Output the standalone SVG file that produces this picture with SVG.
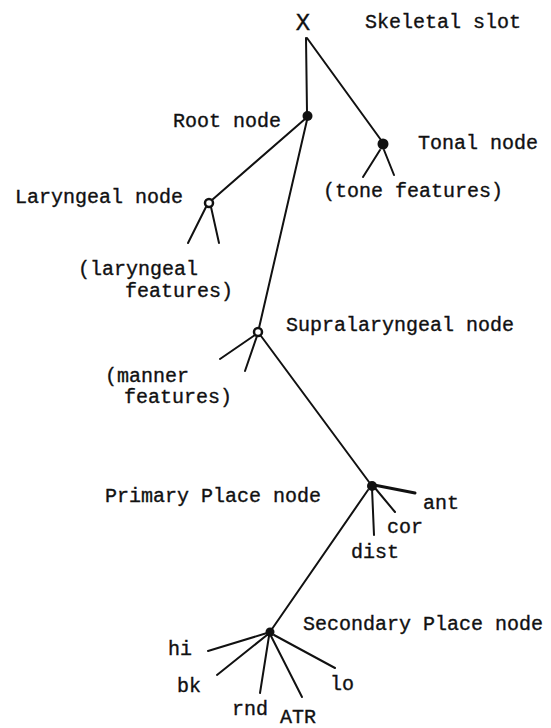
<svg xmlns="http://www.w3.org/2000/svg" width="551" height="728" viewBox="0 0 551 728">
  <style>
    text { font-family: "Liberation Mono", "DejaVu Sans Mono", monospace; font-size: 20px; fill: #111; stroke: #111; stroke-width: 0.35; }
    .edge { stroke: #111; stroke-width: 2; stroke-linecap: round; fill: none; }
    .thick { stroke-width: 3; }
    .dot { fill: #111; }
    .ring { fill: #fff; stroke: #111; stroke-width: 2.5; }
  </style>
  <rect width="551" height="728" fill="#fff"/>

  <g id="connectors">
    <line class="edge" x1="306" y1="38" x2="307" y2="112"/>
    <line class="edge" x1="307" y1="38" x2="381" y2="140"/>
    <line class="edge" x1="305" y1="119" x2="212" y2="200"/>
    <line class="edge" x1="307" y1="120" x2="259" y2="328"/>
    <line class="edge" x1="380" y1="150" x2="363" y2="177"/>
    <line class="edge" x1="384" y1="150" x2="394" y2="175"/>
    <line class="edge" x1="206" y1="207" x2="188" y2="243"/>
    <line class="edge" x1="211" y1="207" x2="219" y2="243"/>
    <line class="edge" x1="255" y1="335" x2="220" y2="359"/>
    <line class="edge" x1="257" y1="336" x2="245" y2="371"/>
    <line class="edge" x1="261" y1="336" x2="369" y2="482"/>
    <line class="edge thick" x1="374" y1="485" x2="415" y2="493"/>
    <line class="edge" x1="375" y1="488" x2="395" y2="512"/>
    <line class="edge" x1="372" y1="488" x2="374" y2="535"/>
    <line class="edge" x1="368" y1="490" x2="272" y2="629"/>
    <line class="edge" x1="267" y1="633" x2="208" y2="651"/>
    <line class="edge" x1="267" y1="635" x2="217" y2="675"/>
    <line class="edge" x1="269" y1="636" x2="260" y2="693"/>
    <line class="edge" x1="271" y1="636" x2="302" y2="697"/>
    <line class="edge" x1="274" y1="635" x2="335" y2="668"/>
  </g>

  <g id="skeletal-slot">
    <text x="303" y="30" text-anchor="middle" style="font-size:24px">X</text>
    <text x="365" y="28">Skeletal slot</text>
  </g>
  <g id="root-node">
    <circle class="dot" cx="307.5" cy="116" r="5"/>
    <text x="173" y="127">Root node</text>
  </g>
  <g id="tonal-node">
    <circle class="dot" cx="383" cy="144" r="5.5"/>
    <text x="418" y="149">Tonal node</text>
    <text x="323" y="197">(tone features)</text>
  </g>
  <g id="laryngeal-node">
    <circle class="ring" cx="209" cy="203" r="4"/>
    <text x="15" y="203">Laryngeal node</text>
    <text x="78" y="275">(laryngeal</text>
    <text x="125" y="297">features)</text>
  </g>
  <g id="supralaryngeal-node">
    <circle class="ring" cx="258" cy="332" r="4"/>
    <text x="286" y="331">Supralaryngeal node</text>
    <text x="105" y="382">(manner</text>
    <text x="124" y="403">features)</text>
  </g>
  <g id="primary-place-node">
    <circle class="dot" cx="372" cy="486" r="5"/>
    <text x="105" y="502">Primary Place node</text>
    <text x="423" y="509">ant</text>
    <text x="387" y="533">cor</text>
    <text x="351" y="558">dist</text>
  </g>
  <g id="secondary-place-node">
    <circle class="dot" cx="270" cy="632" r="4.5"/>
    <text x="303" y="630">Secondary Place node</text>
    <text x="168" y="655">hi</text>
    <text x="177" y="692">bk</text>
    <text x="232" y="715">rnd</text>
    <text x="280" y="723">ATR</text>
    <text x="330" y="690">lo</text>
  </g>
</svg>
